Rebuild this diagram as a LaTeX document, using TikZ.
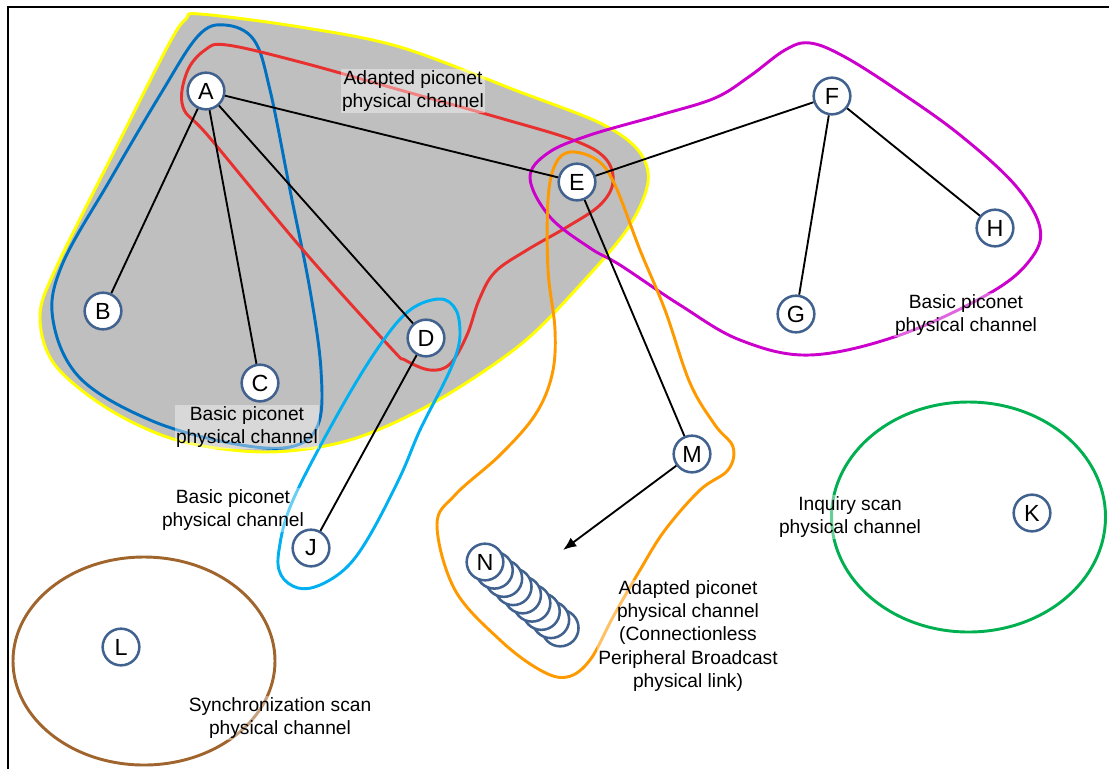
\documentclass[tikz,border=0pt]{standalone}
\usepackage{fontspec}
\setmainfont{Liberation Sans}
\usetikzlibrary{positioning,arrows.meta}

\definecolor{nodeblue}{HTML}{41618F}
\definecolor{blobgray}{HTML}{BFBFBF}
\definecolor{chyellow}{HTML}{FFFF00}
\definecolor{chblue}{HTML}{0070C0}
\definecolor{chred}{HTML}{E8302F}
\definecolor{chcyan}{HTML}{00B0F0}
\definecolor{chmagenta}{HTML}{CC00CC}
\definecolor{chorange}{HTML}{FF9900}
\definecolor{chgreen}{HTML}{00B050}
\definecolor{chbrown}{HTML}{A0642D}

\begin{document}
\begin{tikzpicture}[
		x=0.75pt, y=-0.75pt,
		dev/.style={
			draw=nodeblue,
			circle,
			fill=white,
			line width=1.9pt,
			minimum size=27.5pt,
			inner sep=0pt,
			font=\fontsize{17.5}{17.5}\selectfont
		},
		link/.style={
			draw,
			line width=1.4pt
		},
		chan/.style={
			line width=2.2pt
		},
		lbl/.style={
			align=center,
			fill=white,
			fill opacity=0.4,
			text opacity=1,
			inner sep=1pt,
			font=\fontsize{14.4}{17.3}\selectfont
		}
		]
		
		\useasboundingbox (0,0) rectangle (1109,769);
		\draw[line width=1.5pt] (8,769) -- (8,7) -- (1109,7);
		
		% channels
		\draw[chan, draw=chyellow, fill=blobgray] plot[smooth cycle, tension=0.55] coordinates {
			(200,14) (300,27) (400,47) (520,92) (600,123) (638,150) (648,182)
			(628,228) (580,285) (520,345) (433,403) (350,440) (267,452)
			(180,441) (110,410) (55,365) (40,317) (56,268) (120,140) (170,42) (186,19)};
		\draw[chan, draw=chblue] plot[smooth cycle, tension=0.6] coordinates {
			(225,25) (254,40) (270,90) (290,190) (310,290) (321,370) (318,425)
			(290,447) (230,443) (150,420) (80,378) (53,320) (62,265)
			(110,180) (160,95) (198,36)};
		\draw[chan, draw=chred] plot[smooth cycle, tension=0.6] coordinates {
			(227,45) (300,62) (400,90) (500,118) (573,140) (605,158) (613,182)
			(600,205) (567,227) (527,250) (495,272) (479,300) (467,335)
			(450,364) (430,370) (405,360) (390,347) (303,250) (210,138)
			(183,107) (187,72) (205,50)};
		\draw[chan, draw=chcyan] plot[smooth cycle, tension=0.6] coordinates {
			(440,299) (456,310) (460,335) (455,358) (443,385) (420,430)
			(400,477) (370,535) (347,567) (320,585) (298,588) (281,575)
			(279,550) (293,500) (340,410) (380,345) (410,310)};
		\draw[chan, draw=chmagenta] plot[smooth cycle, tension=0.6] coordinates {
			(530,178) (548,153) (590,135) (660,115) (715,98) (750,76) (785,50)
			(810,43) (845,57) (900,92) (960,135) (1015,185) (1040,228)
			(1030,260) (990,293) (900,335) (810,355) (740,340) (680,305)
			(620,265) (590,248) (550,217)};
		\draw[chan, draw=chorange] plot[smooth cycle, tension=0.6] coordinates {
			(570,152) (597,160) (615,185) (640,250) (665,310) (690,383)
			(715,425) (733,447) (728,470) (700,490) (665,530) (640,570)
			(613,617) (590,660) (567,677) (540,670) (500,640) (455,590)
			(437,525) (455,495) (500,455) (535,415) (552,375) (555,330)
			(548,270) (548,200) (555,165)};
		\draw[chan, draw=chgreen] (968.5,517) ellipse [x radius=137, y radius=115];
		\draw[chan, draw=chbrown] (144,661) ellipse [x radius=131, y radius=104];
		
		\node[lbl] (l1) at (413,91) {Adapted piconet\\physical channel};
		\node[lbl] (l2) at (247,427) {Basic piconet\\physical channel};
		\node[lbl] (l3) at (233,510) {Basic piconet\\physical channel};
		\node[lbl] (l4) at (966,315) {Basic piconet\\physical channel};
		\node[lbl] (l5) at (850,517) {Inquiry scan\\physical channel};
		\node[lbl] (l6) at (688,636) {Adapted piconet\\physical channel\\(Connectionless\\Peripheral Broadcast\\physical link)};
		\node[lbl] (l7) at (280,718) {Synchronization scan\\physical channel};
		
		% devices
		\node[dev] (A) at (206,91) {A};
		\node[dev] (B) at (103,311) {B};
		\node[dev] (C) at (260,383) {C};
		\node[dev] (D) at (426,338) {D};
		\node[dev] (E) at (577,182) {E};
		\node[dev] (F) at (832,96) {F};
		\node[dev] (G) at (796,314) {G};
		\node[dev] (H) at (995,228) {H};
		\node[dev] (J) at (311,548) {J};
		\node[dev] (K) at (1032,513) {K};
		\node[dev] (L) at (121,647) {L};
		\node[dev] (M) at (692,454) {M};
		\foreach \i in {8,...,1}
			\node[dev] (N\i) at (485+9.4*\i, 562+8.25*\i) {};
		\node[dev] (N) at (485,562) {N};
		\coordinate (tgt) at (563,550);
		
		\draw[link] (A) -- (B);
		\draw[link] (A) -- (C);
		\draw[link] (A) -- (D);
		\draw[link] (A) -- (E);
		\draw[link] (E) -- (F);
		\draw[link] (F) -- (G);
		\draw[link] (F) -- (H);
		\draw[link] (E) -- (M);
		\draw[link] (D) -- (J);
		\draw[link, -{Latex[length=10pt, width=8pt]}] (M) -- (tgt);
		
		\end{tikzpicture}
\end{document}
